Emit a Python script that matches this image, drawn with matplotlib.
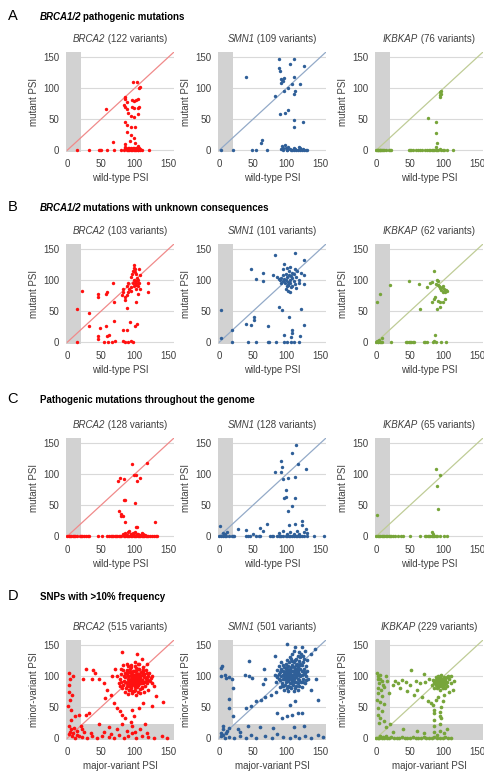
import numpy as np
import matplotlib
matplotlib.use('Agg')
import matplotlib.pyplot as plt

plt.rcParams['font.family'] = ['Liberation Sans', 'DejaVu Sans']

###########################################################
# data, (x, y) pairs per panel

A_brca2 = [(57,66),(68,13),(97,109),(103,109),(106,100),(108,101),(85,85),(86,82),(88,78),(96,80),(99,79),(101,80),(105,82),
           (84,72),(86,69),(88,66),(96,70),(98,68),(104,68),(106,70),(90,60),(94,55),(99,54),(104,58),(85,45),(88,40),(95,37),
           (100,38),(89,30),(95,25),(98,20),(93,15),(85,10),(100,12),(86,5),(90,4),(104,6),(97,3),
           (15,0),(32,0),(47,0),(48,0),(50,0),(59,0),(69,0),(79,0),(84,1),(86,3),(88,0),(89,2),(90,1),(91,4),(92,0),(93,2),
           (94,1),(95,3),(96,0),(97,2),(98,4),(99,1),(100,0),(101,3),(102,1),(103,2),(104,0),(105,1),(106,3),(107,0),(108,2),
           (110,0),(121,0)]
A_smn1 = [(89,147),(111,146),(105,138),(126,135),(89,132),(90,128),(40,117),(91,115),(93,113),(95,111),(92,108),(96,116),
          (111,117),(108,106),(119,107),(101,100),(96,95),(82,87),(111,90),(112,95),(90,58),(97,60),(101,64),(111,49),(111,38),
          (124,46),(62,12),(63,17),
          (3,0),(20,0),(48,0),(54,0),(70,0),(91,2),(93,6),(95,4),(97,8),(99,3),(100,1),(102,5),(104,2),(106,0),(108,1),(110,3),
          (112,2),(114,0),(116,1),(118,5),(120,3),(122,1),(124,2),(126,0),(128,1),(100,0),(95,0),(110,0),(120,0),(130,0)]
A_ikbkap = [(95,85),(95,88),(96,91),(95,94),(96,96),(77,52),(89,46),(89,27),(90,11),(89,5),
            (0,0),(1,0),(2,0),(3,0),(4,0),(5,0),(6,0),(7,0),(8,0),(10,0),(12,0),(14,0),(18,0),(20,0),(22,0),(48,0),(50,0),
            (52,0),(55,0),(58,0),(62,0),(65,0),(68,0),(72,0),(75,0),(78,0),(80,0),(82,0),(84,0),(86,1),(88,0),(90,1),(92,0),
            (94,2),(96,0),(98,1),(100,0),(105,0),(113,0)]

B_brca2 = [(15,54),(21,83),(15,0),(32,47),(32,26),(45,77),(45,73),(57,78),(58,80),(48,23),(57,26),(67,96),(69,65),(69,34),
           (59,10),(61,12),(46,5),(46,10),(70,2),(81,76),(82,80),(83,85),(88,90),(90,95),(95,105),(96,110),(97,115),(98,120),
           (99,124),(100,118),(102,110),(103,103),(100,95),(101,98),(102,92),(104,96),(105,100),(106,95),(105,90),(98,100),
           (97,95),(99,90),(101,85),(95,88),(92,85),(90,80),(88,76),(85,72),(120,95),(120,81),(86,68),(101,65),(88,55),(88,19),
           (93,33),(100,26),(103,30),(83,2),(86,1),(90,0),(94,2),(97,1),(83,20),(66,1),(60,0),(55,0),(104,78),(108,108),
           (100,113),(106,118),(94,82),(107,85)]
B_smn1 = [(2,52),(2,7),(18,19),(18,0),(82,140),(112,144),(47,117),(54,101),(65,111),(65,99),(125,108),(121,111),(125,132),
          (105,121),(118,95),(125,93),(52,36),(52,41),(47,28),(40,30),(72,26),(89,57),(93,52),(121,54),(103,41),(125,27),
          (106,9),(107,14),(108,19),(119,10),(96,11),(43,0),(55,0),(72,0),(74,0),(84,0),(96,0),(100,0),(106,0),(110,0),(118,0),
          (90,100),(92,104),(94,98),(95,108),(96,102),(97,95),(98,110),(99,100),(100,105),(101,97),(102,92),(103,108),(104,100),
          (105,96),(106,88),(107,103),(108,112),(110,99),(112,94),(114,105),(115,115),(100,120),(95,118),(98,85),(102,82),
          (104,80),(108,90),(110,110),(92,95),(88,102),(85,105),(100,90),(103,115),(106,106),(112,118),(96,125),(80,108),
          (118,100),(113,87),(101,92)]
B_ikbkap = [(1,65),(5,78),(20,92),(49,98),(63,93),(64,54),(75,89),(79,95),(82,97),(86,115),(88,93),(91,92),(93,90),(95,87),
            (96,84),(97,88),(99,91),(100,86),(98,80),(101,80),(103,84),(105,82),(92,98),(90,100),(83,65),(85,70),(87,73),
            (91,66),(95,65),(98,65),(101,70),(90,54),(95,57),(87,11),(0,0),(1,2),(2,0),(3,1),(4,3),(5,0),(7,1),(9,0),(21,0),
            (44,0),(46,0),(48,0),(50,0),(52,0),(54,0),(56,0),(70,0),(72,1),(75,0),(84,0),(86,2),(89,0),(96,0),(103,0),(9,7),(2,2)]

C_brca2 = [(96,116),(118,118),(98,98),(101,98),(75,88),(78,93),(84,92),(103,88),(108,94),(84,58),(85,58),(100,53),(77,40),
           (79,36),(80,33),(83,33),(86,22),(102,15),(103,14),(130,22),
           (82,3),(85,5),(88,2),(90,6),(92,8),(94,4),(95,3),(97,5),(99,2),(100,6),(103,3),(105,4),(108,2),(110,5),(112,3),(115,2),
           (0,0),(2,0),(4,0),(6,0),(8,0),(10,0),(12,0),(15,0),(18,0),(20,0),(22,0),(25,0),(28,0),(30,0),(32,0),(46,0),(51,0),
           (58,0),(62,0),(64,0),(66,0),(68,0),(70,0),(72,0),(74,0),(76,0),(78,0),(80,0),(84,0),(86,0),(88,0),(90,0),(92,0),
           (94,0),(96,0),(98,0),(100,0),(102,0),(104,0),(106,0),(108,0),(110,0),(112,0),(114,0),(116,0),(118,0),(120,0),
           (122,0),(125,0),(128,0),(131,0),(133,0)]
C_smn1 = [(114,147),(107,134),(128,108),(116,116),(82,104),(91,104),(93,112),(91,121),(95,92),(101,93),(112,96),(98,74),
          (96,62),(99,63),(112,62),(108,48),(102,40),(70,19),(60,13),(27,11),(1,16),(103,18),(112,19),(122,25),(123,18),
          (5,5),(8,3),(12,6),(40,10),(50,4),(64,8),(88,5),(95,8),(100,3),(105,7),(110,4),(115,9),(118,3),(125,6),(128,12),
          (130,5),
          (0,0),(2,0),(5,0),(8,0),(10,0),(14,0),(18,0),(20,0),(22,0),(40,0),(43,0),(45,0),(55,0),(58,0),(60,0),(75,0),(78,0),
          (80,0),(85,0),(88,0),(90,0),(92,0),(95,0),(98,0),(100,0),(103,0),(105,0),(108,0),(110,0),(113,0),(115,0),(118,0),
          (120,0),(123,0),(126,0),(130,0),(140,0),(155,0)]
C_ikbkap = [(1,34),(88,108),(95,99),(90,81),(92,44),(82,6),(84,4),
            (0,0),(2,0),(4,0),(6,0),(8,0),(10,0),(12,0),(14,0),(16,0),(18,0),(20,0),(22,0),(25,0),(28,0),(32,0),(36,0),
            (40,0),(50,0),(65,0),(72,0),(74,0),(76,0),(78,0),(80,0),(82,0),(84,0),(86,0),(88,0),(90,0),(95,0),(100,0),(105,0)]

D_brca2 = [(84,92),(86,98),(88,88),(89,103),(90,95),(91,84),(92,100),(93,91),(94,106),(95,87),(96,97),(97,93),(98,102),
           (99,85),(100,96),(101,90),(102,108),(103,94),(104,99),(105,86),(106,103),(107,92),(108,97),(109,88),(110,101),
           (111,94),(112,106),(113,90),(114,98),(115,84),(82,86),(85,105),(87,80),(89,110),(91,78),(93,112),(95,80),(97,108),
           (99,76),(101,113),(103,82),(105,111),(107,79),(109,107),(111,83),(113,103),(116,95),(118,88),(120,100),(122,92),
           (78,95),(80,104),(81,80),(76,88),(74,100),(79,112),(83,117),(88,120),(94,118),(100,122),(106,119),(112,115),
           (117,110),(121,105),(124,97),(126,88),(119,78),(114,74),(108,72),(102,70),(96,72),(90,71),(86,74),(92,88),(94,95),
           (96,90),(98,95),(100,100),(102,87),(104,92),(96,104),(92,106),(98,88),(100,83),(102,99),(104,104),(90,90),(106,96),
           (97,100),(95,93),(99,97),(101,94),(103,90),
           (88,84),(90,100),(92,94),(94,84),(96,100),(98,91),(100,92),(102,96),(104,86),(106,91),(108,100),(110,94),(112,88),
           (114,104),(116,90),(118,98),(92,78),(96,76),(100,78),(104,75),(110,80),(86,90),(84,100),(88,108),(94,114),
           (100,116),(106,112),(112,110),(118,105),(120,94),(80,90),(78,84),(82,110),(90,116),(104,120),(98,108),(95,102),
           (101,104),(103,98),(107,88),
           (81,139),(103,135),(28,112),(38,109),(41,105),(23,96),(36,96),(47,95),(54,89),(59,78),(66,100),(71,111),(56,65),
           (64,69),(69,57),(74,49),(78,44),(81,37),(86,33),(94,26),(99,35),(96,46),(106,49),(112,57),(126,52),(141,58),(131,68),
           (128,84),(126,100),(111,127),(118,119),(27,38),(32,40),(12,35),(17,38),(2,105),(4,95),(3,85),(2,74),(7,70),(4,62),
           (1,51),(6,46),(8,100),(5,30),(3,20),
           (2,6),(7,3),(12,0),(17,4),(22,2),(29,1),(37,3),(44,0),(51,4),(61,2),(69,1),(76,5),(84,0),(90,3),(96,8),(102,1),
           (110,4),(120,2),(128,0),(140,3),(148,1),(10,17),(22,14),(47,22),(61,18),(73,14),(81,23),(96,19),(108,15),(115,22),
           (4,10),(9,8),(14,12),(15,5),(6,15),(20,20),(25,10),(35,8),(55,10),(65,6),(88,12),(100,10),(118,8)]
D_smn1 = [(92,100),(94,108),(96,95),(97,104),(98,112),(99,98),(100,106),(101,92),(102,102),(103,110),(104,97),(105,104),
          (106,88),(107,100),(108,108),(109,95),(110,103),(111,114),(112,99),(113,106),(114,91),(115,101),(116,110),(117,96),
          (118,104),(119,118),(120,100),(122,108),(124,96),(126,112),(88,104),(90,94),(91,112),(93,88),(95,118),(97,86),
          (99,120),(101,84),(103,122),(105,82),(107,124),(109,86),(111,122),(113,84),(115,120),(117,88),(121,90),(123,118),
          (125,104),(128,100),(85,98),(86,110),(84,90),(82,102),(88,116),(92,122),(100,126),(106,128),(112,126),(118,124),
          (124,122),(128,116),(130,108),(131,96),(127,88),(122,82),(116,78),(110,76),(102,76),(96,78),(90,82),(98,102),
          (100,98),(102,106),(104,101),(106,96),(108,102),(100,110),(96,106),(104,112),(106,108),(102,94),(110,108),(112,104),
          (98,96),(108,92),(114,112),(116,102),(94,102),(100,102),(104,106),
          (96,100),(98,106),(100,94),(102,100),(104,108),(106,102),(108,98),(110,96),(112,110),(114,98),(116,106),(118,94),
          (120,112),(122,102),(124,108),(94,96),(92,110),(90,106),(88,96),(86,100),(96,114),(102,116),(108,118),(114,118),
          (120,120),(126,106),(128,94),(124,90),(118,84),(112,80),(106,80),(100,80),(94,84),(98,90),(104,88),(110,90),
          (100,114),(106,114),(116,114),(102,98),
          (113,128),(116,132),(119,130),(121,136),(124,133),(127,140),(122,146),(112,146),(100,151),(136,135),(141,143),
          (130,125),(126,128),(118,138),(108,135),(104,131),(110,140),
          (3,113),(4,116),(3,100),(8,101),(10,97),(15,99),(18,95),(15,63),(20,81),(44,100),(44,124),(38,101),(49,97),(66,111),
          (68,95),(65,87),(83,133),(40,49),(47,52),(54,60),(61,62),(67,67),(76,70),(84,74),(93,84),(85,41),(93,33),(100,35),
          (107,38),(117,40),(122,41),(105,54),(112,60),(146,62),(136,78),(143,95),(127,105),(5,20),(12,12),(20,35),(15,49),
          (30,10),
          (3,3),(8,0),(10,8),(15,2),(22,0),(30,4),(40,1),(47,5),(55,0),(68,3),(78,0),(86,6),(95,2),(104,0),(112,4),(118,1),
          (127,3),(136,0),(146,5),(153,2),(6,15),(15,17),(27,14),(42,20),(60,18),(80,16),(110,18),(125,20),(2,8),(5,5)]
D_ikbkap = [(86,88),(88,92),(89,85),(90,95),(91,89),(92,82),(93,93),(94,87),(95,98),(96,84),(97,91),(98,88),(99,95),(100,86),
            (101,92),(102,80),(88,98),(90,80),(92,100),(94,78),(96,102),(98,80),(100,99),(104,90),(105,84),(84,94),(82,86),
            (86,80),(90,90),(94,92),(96,88),(92,90),(98,94),(100,90),(108,96),(110,88),(106,100),
            (87,90),(89,94),(91,86),(93,96),(95,90),(97,86),(99,92),(91,92),(93,84),(95,94),(97,96),(89,88),(101,96),(103,88),
            (85,92),(99,82),
            (52,110),(71,104),(60,78),(81,56),(86,45),(95,35),(102,91),(105,99),(110,100),(108,74),(99,60),(96,50),(88,62),
            (78,96),(72,90),(65,88),(58,92),(50,86),(44,90),(38,94),(32,88),(28,92),(24,86),(35,80),(46,76),(56,70),(68,66),
            (76,60),(84,54),(92,66),(100,70),(113,78),(115,92),
            (1,105),(3,100),(5,102),(2,95),(6,96),(8,92),(4,88),(10,85),(2,80),(7,78),(12,82),(3,72),(9,68),(1,62),(5,58),
            (11,55),(3,48),(8,44),(2,38),(6,32),(12,28),(4,24),(14,100),(16,92),(18,72),
            (85,10),(85,20),(85,30),(85,40),(95,12),(95,22),(96,32),(94,42),(90,5),(100,8),(104,15),(70,8),(60,12),(40,15),
            (25,10),(15,18),(20,22),
            (0,0),(2,1),(4,0),(6,3),(8,0),(10,2),(12,0),(14,4),(16,1),(18,0),(22,2),(26,0),(30,1),(34,0),(38,2),(42,0),(46,1),
            (50,0),(54,2),(58,0),(62,1),(66,0),(70,2),(74,0),(78,1),(82,0),(86,2),(90,0),(94,1),(98,0),(102,2),(106,0),(110,1)]

genes = ['BRCA2', 'SMN1', 'IKBKAP']
variant_counts = [[122, 109, 76], [103, 101, 62], [128, 128, 65], [515, 501, 229]]
panel_data = [[A_brca2, A_smn1, A_ikbkap], [B_brca2, B_smn1, B_ikbkap],
              [C_brca2, C_smn1, C_ikbkap], [D_brca2, D_smn1, D_ikbkap]]
letters = ['A', 'B', 'C', 'D']
headers = [[('BRCA1/2', 'italic'), ('pathogenic mutations', 'normal')],
           [('BRCA1/2', 'italic'), ('mutations with unknown consequences', 'normal')],
           [('Pathogenic mutations throughout the genome', 'normal')],
           [('SNPs with >10% frequency', 'normal')]]

###########################################################
# layout (pixels)

W, H = 484, 773
fig = plt.figure(figsize=(W / 100, H / 100), dpi=100)
renderer = fig.canvas.get_renderer()

col_left = [66, 218, 375]
row_bottom = [152, 344, 538, 740]
ax_w, ax_h = 108, 100
letter_y = [16, 207, 399, 596]

dot_cols = {'BRCA2': '#ff1010', 'SMN1': '#2f5f98', 'IKBKAP': '#77a53a'}
line_cols = {'BRCA2': '#f08a8a', 'SMN1': '#93aac8', 'IKBKAP': '#bfcc96'}
band_col = '#d2d2d2'
text_col = '#404040'


def put_text(x_px, y_px, parts, size, weight='normal', center=False, color=text_col, gap=0):
    texts = [fig.text(0, 0, s, fontsize=size, style=st, weight=weight, va='center',
                      ha='left', color=color) for s, st in parts]
    widths = [t.get_window_extent(renderer).width + gap for t in texts]
    x0 = x_px - sum(widths) / 2 if center else x_px
    for t, w in zip(texts, widths):
        t.set_position((x0 / W, 1 - y_px / H))
        x0 += w


for r in range(4):
    snp = (r == 3)
    fig.text(13 / W, 1 - letter_y[r] / H, letters[r], fontsize=10.5, ha='center', va='center')
    put_text(40, letter_y[r] + 1, headers[r], 7, weight='bold', color='black', gap=1.5)
    for c, gene in enumerate(genes):
        left, bottom = col_left[c], row_bottom[r]
        ax = fig.add_axes([left / W, 1 - bottom / H, ax_w / W, ax_h / H])
        ax.set_xlim(-2, 158)
        ax.set_ylim(-3, 158)
        for v in (0, 50, 100, 150):
            ax.axhline(v, color='#d9d9d9', lw=0.8, zorder=0)
        ax.axvspan(-2, 20, color=band_col, lw=0, zorder=1)
        if snp:
            ax.axhspan(-3, 22, color=band_col, lw=0, zorder=1)
        ax.plot([0, 165], [0, 165], color=line_cols[gene], lw=0.9, zorder=2)
        pts = np.array(panel_data[r][c])
        ax.scatter(pts[:, 0], pts[:, 1], s=7 if snp else 6, color=dot_cols[gene], lw=0, zorder=3)

        ax.set_xticks([0, 50, 100, 150])
        ax.set_yticks([0, 50, 100, 150])
        ax.tick_params(length=0, labelsize=7, labelcolor=text_col, pad=5)
        for sp in ax.spines.values():
            sp.set_visible(False)
        ax.set_xlabel('major-variant PSI' if snp else 'wild-type PSI', fontsize=7,
                      color=text_col, labelpad=3)
        ax.set_ylabel('minor-variant PSI' if snp else 'mutant PSI', fontsize=7,
                      color=text_col, labelpad=3)

        put_text(left + ax_w / 2, bottom - ax_h - 13,
                 [(gene, 'italic'), (' (%d variants)' % variant_counts[r][c], 'normal')],
                 7, center=True)

fig.savefig('out.png', dpi=100)
